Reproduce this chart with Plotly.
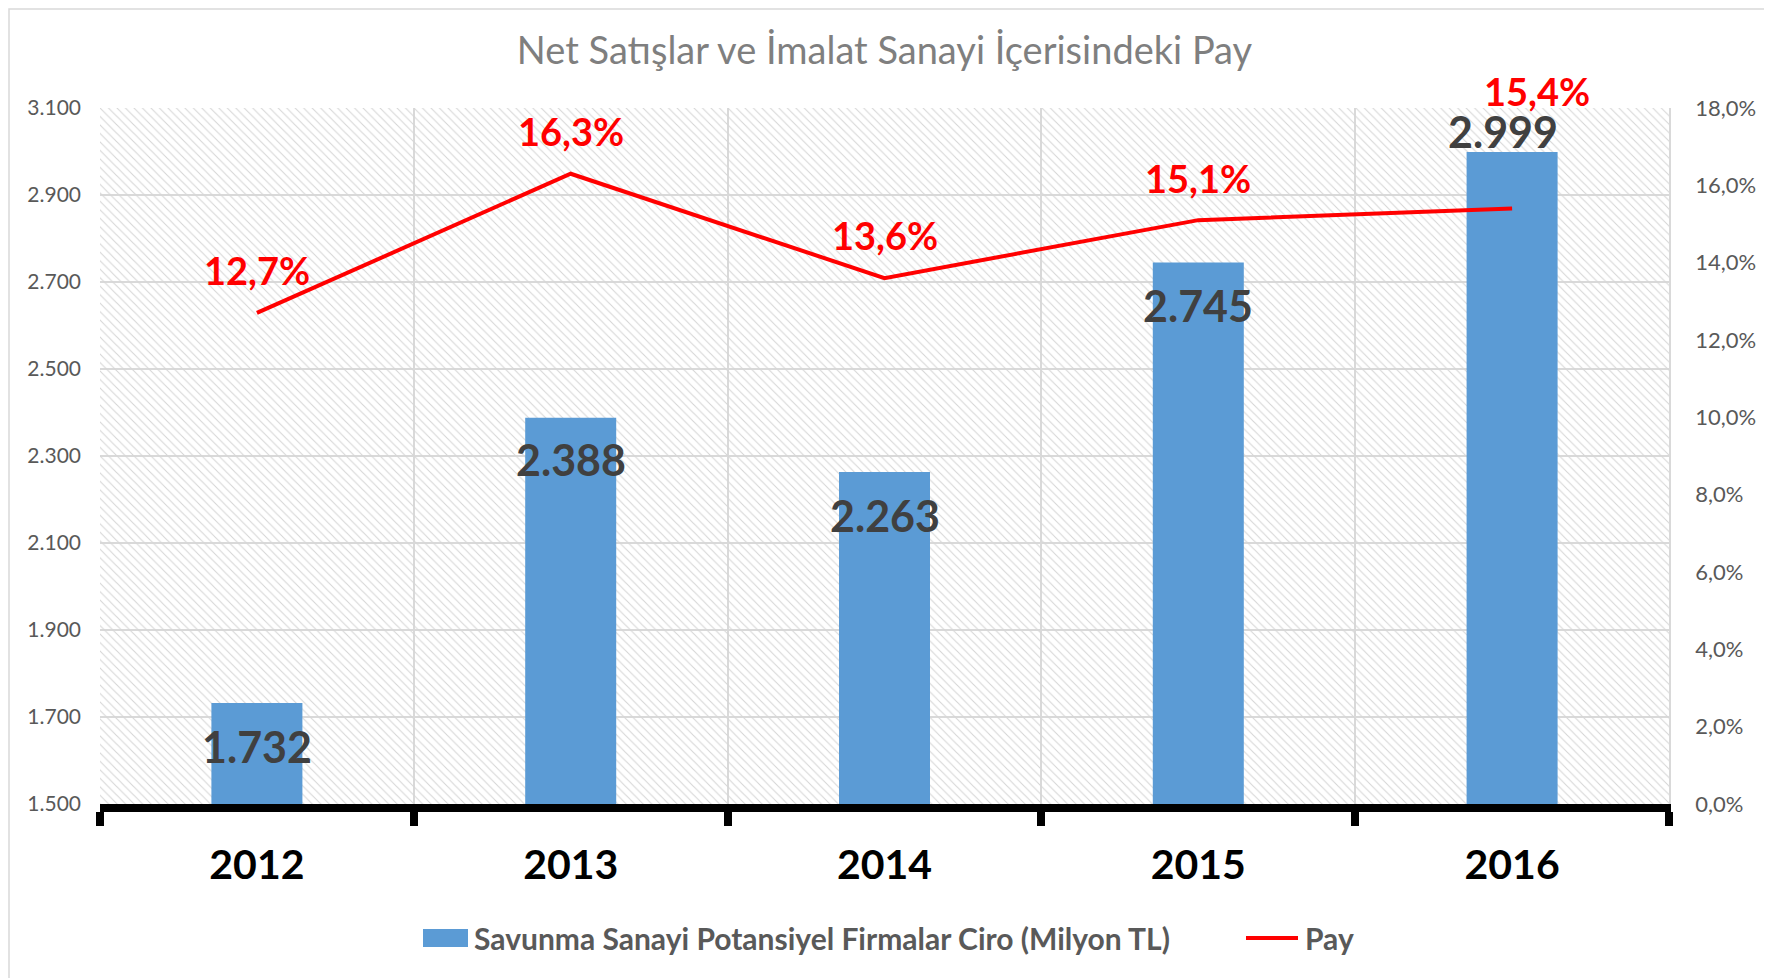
import plotly.graph_objects as go

# =====================================================
# DATA
# =====================================================

YEARS = ["2012", "2013", "2014", "2015", "2016"]
CIRO = [1732, 2388, 2263, 2745, 2999]          # Milyon TL
PAY = [12.7, 16.3, 13.6, 15.1, 15.4]           # %

BAR_NAME = "Savunma Sanayi Potansiyel Firmalar Ciro (Milyon TL)"
LINE_NAME = "Pay"
TITLE = "Net Satışlar ve İmalat Sanayi İçerisindeki Pay"

# =====================================================
# STYLE
# =====================================================

FONT = "Lato"
BLUE = "#5B9BD5"
RED = "#FF0000"
GRID = "#D9D9D9"
TICK_GRAY = "#595959"

Y_MIN, Y_MAX, Y_STEP = 1500, 3100, 200
Y2_MIN, Y2_MAX, Y2_STEP = 0, 18, 2

# label offsets in px (labels were hand placed in the original)
CIRO_YSHIFT = [-43, -42, -43, -43, 20]
CIRO_XSHIFT = [0, 0, 0, 0, -9]
PAY_YSHIFT = [43, 43, 43, 42, 118]
PAY_XSHIFT = [0, 0, 0, 0, 25]

# page body has an 8px margin -> figure starts at (8, 8) of the window
OFF = 8
W, H = 1772 - OFF, 978 - OFF
PLOT_L, PLOT_R, PLOT_T, PLOT_B = 100, 1669, 108, 804   # window px
M_L, M_T = PLOT_L - OFF, PLOT_T - OFF
M_R, M_B = 1772 - PLOT_R, 978 - PLOT_B
PW, PH = PLOT_R - PLOT_L, PLOT_B - PLOT_T


def px_x(p):
    return (p - PLOT_L) / PW


def px_y(p):
    return (PLOT_B - p) / PH


fig = go.Figure()

# hatched plot background
fig.add_trace(
    go.Bar(
        x=YEARS,
        y=[Y_MAX - Y_MIN] * len(YEARS),
        base=Y_MIN,
        width=1,
        marker=dict(
            color="#D6D6D6",
            line=dict(width=0),
            pattern=dict(shape="\\", size=6, solidity=0.18, fillmode="replace"),
        ),
        showlegend=False,
        hoverinfo="skip",
    )
)

fig.add_trace(
    go.Bar(
        x=YEARS,
        y=[v - Y_MIN for v in CIRO],
        base=Y_MIN,
        width=0.29,
        marker=dict(color=BLUE, line=dict(width=0)),
        name=BAR_NAME,
        customdata=CIRO,
        hovertemplate="%{x}: %{customdata:,d}<extra></extra>",
        showlegend=False,
    )
)

fig.add_trace(
    go.Scatter(
        x=YEARS,
        y=PAY,
        yaxis="y2",
        mode="lines",
        line=dict(color=RED, width=4),
        name=LINE_NAME,
        showlegend=False,
    )
)

# value labels (category index as x so "2012" is not read as a position)
for i, v in enumerate(CIRO):
    fig.add_annotation(
        x=i, y=v, xref="x", yref="y",
        text="<b>" + f"{v:,}".replace(",", ".") + "</b>",
        showarrow=False, yanchor="middle",
        yshift=CIRO_YSHIFT[i], xshift=CIRO_XSHIFT[i],
        font=dict(family=FONT, size=43, color="#404040"),
    )
for i, p in enumerate(PAY):
    fig.add_annotation(
        x=i, y=p, xref="x", yref="y2",
        text="<b>" + f"{p:.1f}".replace(".", ",") + "%</b>",
        showarrow=False, yanchor="middle",
        yshift=PAY_YSHIFT[i], xshift=PAY_XSHIFT[i],
        font=dict(family=FONT, size=38, color=RED),
    )

# legend (drawn by hand to get the wide Excel swatch)
LEG_Y = px_y(938)
fig.add_shape(type="rect", xref="paper", yref="paper",
              x0=px_x(423), x1=px_x(468), y0=px_y(947), y1=px_y(929),
              fillcolor=BLUE, line=dict(width=0))
fig.add_annotation(x=px_x(472), y=LEG_Y, xref="paper", yref="paper",
                   text="<b>" + BAR_NAME + "</b>", showarrow=False,
                   xanchor="left", yanchor="middle",
                   font=dict(family=FONT, size=30, color=TICK_GRAY))
fig.add_shape(type="line", xref="paper", yref="paper",
              x0=px_x(1246), x1=px_x(1298), y0=LEG_Y, y1=LEG_Y,
              line=dict(color=RED, width=4))
fig.add_annotation(x=px_x(1303), y=LEG_Y, xref="paper", yref="paper",
                   text="<b>" + LINE_NAME + "</b>", showarrow=False,
                   xanchor="left", yanchor="middle",
                   font=dict(family=FONT, size=30, color=TICK_GRAY))

# outer chart border (bottom edge falls outside the page)
fig.add_shape(type="rect", xref="paper", yref="paper",
              x0=px_x(9), x1=px_x(1768), y0=px_y(990), y1=px_y(9),
              line=dict(color=GRID, width=1.5), fillcolor="rgba(0,0,0,0)",
              layer="below")

fig.update_layout(
    width=W,
    height=H,
    paper_bgcolor="white",
    plot_bgcolor="white",
    barmode="overlay",
    separators=",.",
    showlegend=False,
    margin=dict(l=M_L, r=M_R, t=M_T, b=M_B),
    font=dict(family=FONT, color=TICK_GRAY),
    title=dict(
        text=TITLE,
        x=0.5, xref="paper", xanchor="center",
        y=1 - (51 - OFF) / H, yref="container", yanchor="middle",
        font=dict(family=FONT, size=38, color="#7F7F7F"),
    ),
    xaxis=dict(
        type="category",
        range=[-0.5, len(YEARS) - 0.5],
        tickson="boundaries",
        ticks="outside",
        ticklen=14,
        tickwidth=8,
        tickcolor="black",
        showline=True,
        linecolor="black",
        linewidth=8,
        showgrid=True,
        gridcolor=GRID,
        gridwidth=1.5,
        ticklabelstandoff=18,
        tickfont=dict(family=FONT, size=41, color="black", weight="bold"),
    ),
    yaxis=dict(
        range=[Y_MIN, Y_MAX],
        dtick=Y_STEP,
        tick0=Y_MIN,
        tickformat=",d",
        showgrid=True,
        gridcolor=GRID,
        gridwidth=1.5,
        zeroline=False,
        ticklabelstandoff=18,
        tickfont=dict(family=FONT, size=21, color=TICK_GRAY),
    ),
    yaxis2=dict(
        overlaying="y",
        side="right",
        range=[Y2_MIN, Y2_MAX],
        dtick=Y2_STEP,
        tick0=Y2_MIN,
        tickformat=".1f",
        ticksuffix="%",
        showgrid=False,
        zeroline=False,
        showline=True,
        linecolor=GRID,
        linewidth=1.5,
        ticklabelstandoff=20,
        tickfont=dict(family=FONT, size=22, color=TICK_GRAY),
    ),
)

fig.write_html("out.html")
